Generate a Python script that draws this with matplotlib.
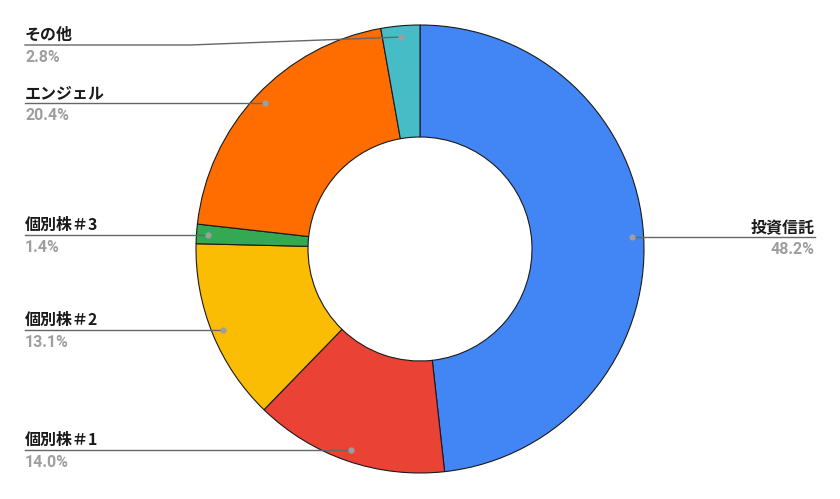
import numpy as np
import matplotlib.pyplot as plt

labels = ["投資信託", "個別株＃1", "個別株＃2", "個別株＃3", "エンジェル", "その他"]
values = [48.2, 14.0, 13.1, 1.4, 20.4, 2.8]
colors = ["#4285F4", "#EA4335", "#FBBC04", "#34A853", "#FF6D01", "#46BDC6"]

W, H = 840, 499
CX, CY, R = 420, H - 249, 224

fig = plt.figure(figsize=(W / 100, H / 100), dpi=100)
ax = fig.add_axes([0, 0, 1, 1])

ax.pie(values, colors=colors, startangle=90, counterclock=False,
       radius=R, center=(CX, CY),
       wedgeprops=dict(width=R * 0.5, edgecolor="#1a1a1a", linewidth=0.8))

ax.set_xlim(0, W)
ax.set_ylim(0, H)
ax.set_aspect("equal")
ax.axis("off")

name_font = dict(family=["Noto Sans CJK JP", "DejaVu Sans"], fontweight="bold",
                 fontsize=11.5, color="#1a1a1a")
pct_font = dict(family=["Roboto", "DejaVu Sans"], fontweight="bold",
                fontsize=11.5, color="#9e9e9e")

# label rows (only その他 is lifted off its own slice level)
label_row = {"その他": H - 45}

cum = 0.0
total = sum(values)
for name, v in zip(labels, values):
    mid = (cum + v / 2) / total * 2 * np.pi
    cum += v
    dx = CX + 0.95 * R * np.sin(mid)
    dy = CY + 0.95 * R * np.cos(mid)
    ly = label_row.get(name, dy)
    if dx > CX:
        xt = 815
        ax.plot([dx, xt], [dy, ly], color="#666666", lw=1.0, zorder=3)
        ax.text(xt, ly + 2, name, ha="right", va="bottom", **name_font)
        ax.text(xt, ly - 5, f"{v:.1f}%", ha="right", va="top", **pct_font)
    else:
        xt = 25
        ax.plot([xt, 190, dx], [ly, ly, dy], color="#666666", lw=1.0, zorder=3)
        ax.text(xt, ly + 2, name, ha="left", va="bottom", **name_font)
        ax.text(xt, ly - 5, f"{v:.1f}%", ha="left", va="top", **pct_font)
    ax.plot(dx, dy, "o", color="#9e9e9e", ms=3.5, zorder=4)

fig.savefig("out.png", dpi=100)
